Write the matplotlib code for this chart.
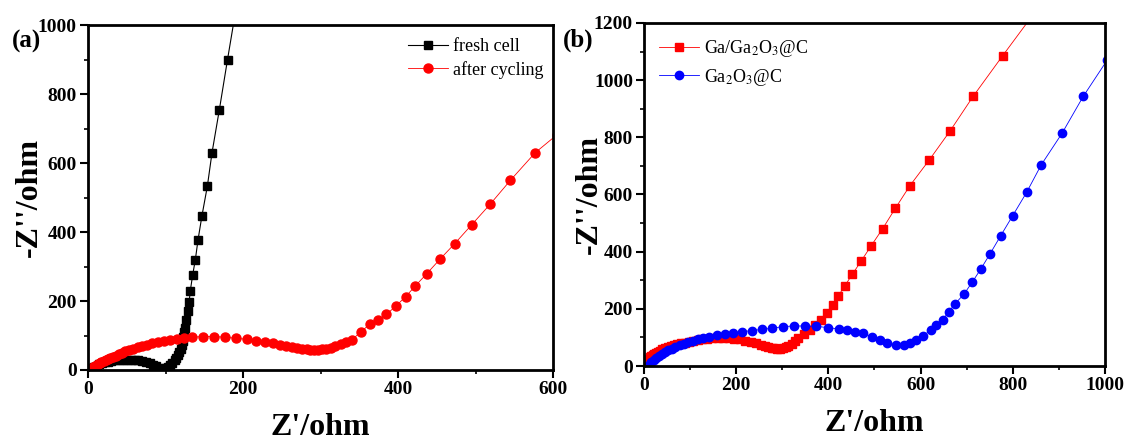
import matplotlib.pyplot as plt
from matplotlib.ticker import MultipleLocator

# ==========================================================
# DATA
# ==========================================================

# (a) fresh cell
fresh_x = [3, 5, 8, 11, 14, 18, 22, 26, 30, 35, 40, 45, 50, 55, 60, 65, 70, 75,
           80, 84, 88, 91, 94, 96, 98, 100, 103, 106, 109, 112, 114, 116, 118,
           120, 121, 122, 123, 124, 125, 127, 128.6, 130.5, 132, 135, 138.5,
           142, 147, 154, 160, 169.5, 180, 193]
fresh_y = [2, 6, 10, 13, 16, 19, 22, 24, 26, 28, 29, 30, 30, 30, 29, 28, 26, 23,
           19, 15, 11, 7, 3, 1, 3, 6, 10, 15, 21, 28, 35, 43, 52,
           62, 73, 85, 97, 110, 122, 145, 170, 198, 230, 275, 320,
           378, 447, 533, 630, 755, 900, 1075]

# (a) after cycling
cyc_x = [3, 5, 7, 9, 11, 13, 15, 17, 20, 23, 26, 29, 32, 36, 40, 44, 48, 53,
         58, 64, 70, 76, 83, 90, 98, 106, 115, 124, 134, 148, 163, 177, 191,
         205, 217, 228, 239, 248, 256, 263, 270, 276, 282, 287, 292, 297, 302,
         307, 313, 319, 326, 333, 340, 352, 364, 374, 385, 397, 410, 422, 437,
         454, 473, 495, 519, 545, 577, 605]
cyc_y = [0, 4, 8, 11, 14, 17, 20, 23, 26, 29, 32, 35, 38, 42, 46, 50, 54, 58,
         62, 66, 70, 73, 77, 80, 84, 87, 90, 93, 95, 97, 97, 95, 92,
         89, 85, 80, 77, 73, 70, 67, 64, 62, 60, 59, 59, 59, 60,
         62, 65, 69, 74, 80, 87, 110, 134, 144, 161, 185, 213, 243, 279,
         321, 366, 421, 481, 550, 630, 682]

# (b) Ga/Ga2O3@C
gag_x = [2, 4, 6, 8, 10, 13, 16, 19, 22, 26, 30, 35, 40, 46, 52, 58, 65, 72,
         80, 88, 97, 106, 116, 126, 137, 148, 160, 172, 184, 196, 208, 220,
         232, 243, 253, 262, 270, 277, 283, 289, 295, 301, 307, 313, 320, 327,
         333, 346, 360, 372, 385, 398, 409, 421, 435, 452, 471, 493, 518, 545,
         577, 619, 664, 714, 778, 840]
gag_y = [3, 10, 16, 21, 25, 30, 34, 38, 42, 46, 50, 54, 58, 62, 66, 70, 73, 76,
         79, 82, 85, 88, 91, 93, 95, 97, 98, 98, 97, 95, 93, 89,
         85, 80, 75, 71, 67, 64, 62, 61, 61, 63, 66, 71, 78, 86,
         97, 113, 125, 143, 162, 186, 215, 244, 279, 321, 367, 421, 481, 551,
         631, 721, 822, 943, 1085, 1220]

# (b) Ga2O3@C
go_x = [9, 12, 16, 21, 26, 32, 38, 45, 52, 60, 68, 77, 86, 96, 106, 117, 128,
        140, 158, 176, 194, 212, 234, 255, 277, 302, 325, 349, 374, 400, 422,
        440, 458, 476, 494, 512, 528, 546, 563, 577, 591, 606, 622, 634, 648,
        661, 675, 694, 712, 731, 751, 774, 800, 830, 862, 907, 953, 1005]
go_y = [0, 6, 13, 20, 27, 34, 41, 48, 55, 61, 67, 73, 78, 83, 88, 93, 98,
        103, 108, 113, 117, 120, 124, 128, 132, 138, 140, 140, 139, 134, 130,
        126, 120, 114, 103, 91, 80, 73, 74, 80, 91, 106, 126, 143, 162,
        189, 218, 251, 293, 340, 393, 456, 526, 607, 704, 814, 943, 1070]

# ==========================================================
# STYLE
# ==========================================================

plt.rcParams["font.family"] = "Liberation Serif"
plt.rcParams["mathtext.fontset"] = "stix"
plt.rcParams["font.size"] = 13

fig = plt.figure(figsize=(11.24, 4.41), dpi=100)
ax1 = fig.add_axes([0.0783, 0.161, 0.4137, 0.782])
ax2 = fig.add_axes([0.573, 0.170, 0.410, 0.778])


def style_axes(ax, xmax, ymax, ypad):
    ax.set_xlim(0, xmax)
    ax.set_ylim(0, ymax)
    ax.xaxis.set_major_locator(MultipleLocator(200))
    ax.xaxis.set_minor_locator(MultipleLocator(100))
    ax.yaxis.set_major_locator(MultipleLocator(200))
    ax.yaxis.set_minor_locator(MultipleLocator(100))
    ax.tick_params(which="major", direction="out", length=6, width=1.5,
                   labelsize=14, pad=2, top=False, right=False)
    ax.tick_params(which="minor", direction="out", length=3, width=1.2,
                   top=False, right=False)
    for lab in ax.get_xticklabels() + ax.get_yticklabels():
        lab.set_fontweight("bold")
    for sp in ax.spines.values():
        sp.set_linewidth(2)
    ax.set_xlabel("Z'/ohm", fontsize=23, fontweight="bold", labelpad=10.5)
    ax.set_ylabel("-Z''/ohm", fontsize=23, fontweight="bold", labelpad=ypad)


# ==========================================================
# (a)
# ==========================================================

ax1.plot(fresh_x, fresh_y, color="black", marker="s", markersize=6,
         linewidth=0.8, label="fresh cell")
ax1.plot(cyc_x, cyc_y, color="red", marker="o", markersize=6.5,
         linewidth=0.6, label="after cycling")
style_axes(ax1, 600, 1000, -4)
ax1.legend(loc="upper right", bbox_to_anchor=(1.0, 0.988), frameon=False,
           fontsize=13, handlelength=2.2, handletextpad=0.3,
           labelspacing=0.3, borderaxespad=0.1)
fig.text(0.0107, 0.905, "(a)", fontsize=18, fontweight="bold", va="center")

# ==========================================================
# (b)
# ==========================================================

ax2.plot(gag_x, gag_y, color="red", marker="s", markersize=5.5,
         linewidth=0.6, label="Ga/Ga$_2$O$_3$@C")
ax2.plot(go_x, go_y, color="blue", marker="o", markersize=6,
         linewidth=0.6, label="Ga$_2$O$_3$@C")
style_axes(ax2, 1000, 1200, -7)
ax2.legend(loc="upper left", frameon=False, fontsize=13, handlelength=2.2,
           handletextpad=0.25, labelspacing=0.4, borderaxespad=0.45)
fig.text(0.501, 0.909, "(b)", fontsize=18, fontweight="bold", va="center")

# ==========================================================
# SAVE
# ==========================================================

fig.savefig("out.png", dpi=100)
